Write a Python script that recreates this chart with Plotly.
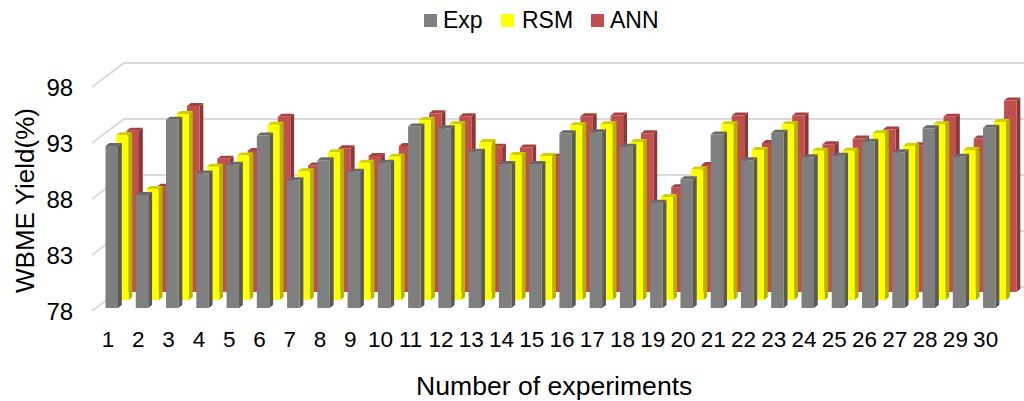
import plotly.graph_objects as go

categories = list(range(1, 31))
exp = [92.46, 88.1, 94.8, 90.0, 90.8, 93.4, 89.4, 91.2, 90.17, 90.97, 94.2, 94.04, 91.96, 90.86, 90.86,
       93.6, 93.7, 92.4, 87.4, 89.5, 93.5, 91.2, 93.65, 91.45, 91.6, 92.85, 91.9, 94.04, 91.5, 94.1]
rsm = [92.7, 87.9, 94.6, 89.9, 90.9, 93.65, 89.5, 91.2, 90.26, 90.8, 94.07, 93.7, 92.1, 90.95, 90.86,
       93.6, 93.7, 92.1, 87.2, 89.66, 93.7, 91.4, 93.7, 91.33, 91.33, 92.88, 91.75, 93.7, 91.4, 93.9]
ann = [92.4, 87.4, 94.6, 89.9, 90.6, 93.65, 89.3, 90.83, 90.14, 91.04, 93.95, 93.7, 90.97, 90.9, 90.08,
       93.7, 93.75, 92.17, 87.35, 89.34, 93.75, 91.3, 93.75, 91.2, 91.7, 92.5, 91.1, 93.65, 91.7, 95.1]
y_ticks = [78, 83, 88, 93, 98]
series_names = ["Exp", "RSM", "ANN"]
front_colors = ["#7f7f7f", "#ffff00", "#c0504d"]
side_colors = ["#595959", "#b3b300", "#8a3836"]
top_colors = ["#686868", "#d0d000", "#a5423f"]
legend_swatch_left = [424, 501, 591]
legend_text_left = [442, 521, 609]

# layout constants (pixels)
W, H = 1024, 401
L, T, B = 92, 60, 311
PX_X = 30.26   # px per category
PX_Y = 11.2    # px per value unit
XMIN = 1 - (107.1 - L) / PX_X
XMAX = XMIN + (W - L) / PX_X
YMAX = 78 + (B - T) / PX_Y


def dx(p):
    return p / PX_X


def dy(p):
    return p / PX_Y


def paper_x(p):
    return (p - L) / (W - L)


def paper_y(p):
    return (B - p) / (B - T)


BAR_W, BAR_LEFT = 12.5, -1.6
STEP_X, STEP_Y = 10.5, 8.0
DEPTH_X, DEPTH_Y = 3.8, 3.0
BASE_LIFT = 3.0
WALL_X, WALL_Y = 32.0, 24.0

traces = []

gx, gy = [], []
for v in y_ticks:
    gx += [XMIN, XMIN + dx(WALL_X), XMAX, None]
    gy += [v, v + dy(WALL_Y), v + dy(WALL_Y), None]
traces.append(go.Scatter(x=gx, y=gy, mode="lines", line=dict(color="#d9d9d9", width=2),
                         showlegend=False, hoverinfo="skip"))


def polys(values, s):
    """Return front, side, top polygon paths for series index s."""
    fx, fy, sx, sy, tx, ty = [], [], [], [], [], []
    off_x = s * STEP_X
    lift = BASE_LIFT + s * STEP_Y
    for c, v in zip(categories, values):
        x0 = c + dx(BAR_LEFT + off_x)
        x1 = x0 + dx(BAR_W)
        xd = dx(DEPTH_X)
        yd = dy(DEPTH_Y)
        y0 = 78 + dy(lift)
        y1 = v + dy(lift)
        fx += [x0, x1, x1, x0, x0, None]
        fy += [y0, y0, y1, y1, y0, None]
        sx += [x1, x1 + xd, x1 + xd, x1, x1, None]
        sy += [y0, y0 + yd, y1 + yd, y1, y0, None]
        tx += [x0, x1, x1 + xd, x0 + xd, x0, None]
        ty += [y1, y1, y1 + yd, y1 + yd, y1, None]
    return (fx, fy), (sx, sy), (tx, ty)


all_values = [exp, rsm, ann]
for s in [2, 1, 0]:
    front, side, top = polys(all_values[s], s)
    for (px, py), col, nm in ((side, side_colors[s], "side"), (top, top_colors[s], "top"),
                              (front, front_colors[s], "front")):
        traces.append(go.Scatter(x=px, y=py, mode="lines", fill="toself", fillcolor=col,
                                 name=f"{series_names[s]} {nm}",
                                 line=dict(width=0, color=col), showlegend=False, hoverinfo="skip"))

shapes = []
annotations = [
    dict(text="Number of experiments", xref="paper", yref="paper", x=paper_x(554), y=paper_y(386),
         xanchor="center", yanchor="middle", showarrow=False, font=dict(size=26.6)),
    dict(text="WBME Yield(%)", xref="paper", yref="paper", x=paper_x(25), y=paper_y(201),
         xanchor="center", yanchor="middle", textangle=-90, showarrow=False, font=dict(size=26)),
]
for name, col, sl, tl in zip(series_names, front_colors, legend_swatch_left, legend_text_left):
    shapes.append(dict(type="rect", xref="paper", yref="paper", x0=paper_x(sl), x1=paper_x(sl + 13),
                       y0=paper_y(14), y1=paper_y(27), fillcolor=col, line=dict(width=0)))
    annotations.append(dict(text=name, xref="paper", yref="paper", x=paper_x(tl), y=paper_y(20),
                            xanchor="left", xshift=-1, yanchor="middle", showarrow=False, font=dict(size=23)))

fig = go.Figure(traces)
fnt = "Liberation Sans, Arial, sans-serif"
fig.update_layout(
    width=W, height=H, margin=dict(l=L, r=0, t=T, b=H - B, autoexpand=False),
    paper_bgcolor="white", plot_bgcolor="white", showlegend=False,
    font=dict(family=fnt, size=22, color="black"),
    xaxis=dict(range=[XMIN, XMAX], tickmode="array", tickvals=categories, ticktext=[str(c) for c in categories],
               showgrid=False, zeroline=False, showline=False, ticks="outside", ticklen=8,
               tickcolor="rgba(0,0,0,0)", tickfont=dict(size=22.5), tickangle=0, ticklabelshift=1),
    yaxis=dict(range=[78, YMAX], tickmode="array", tickvals=y_ticks, ticktext=[str(v) for v in y_ticks],
               showgrid=False, zeroline=False, showline=False, ticks="outside", ticklen=13,
               tickcolor="rgba(0,0,0,0)", tickfont=dict(size=24), ticklabelshift=1),
    shapes=shapes, annotations=annotations,
)
fig.write_html("out.html", config=dict(displayModeBar=False),
               post_script="document.body.style.margin='0';document.documentElement.style.overflow='hidden';")
